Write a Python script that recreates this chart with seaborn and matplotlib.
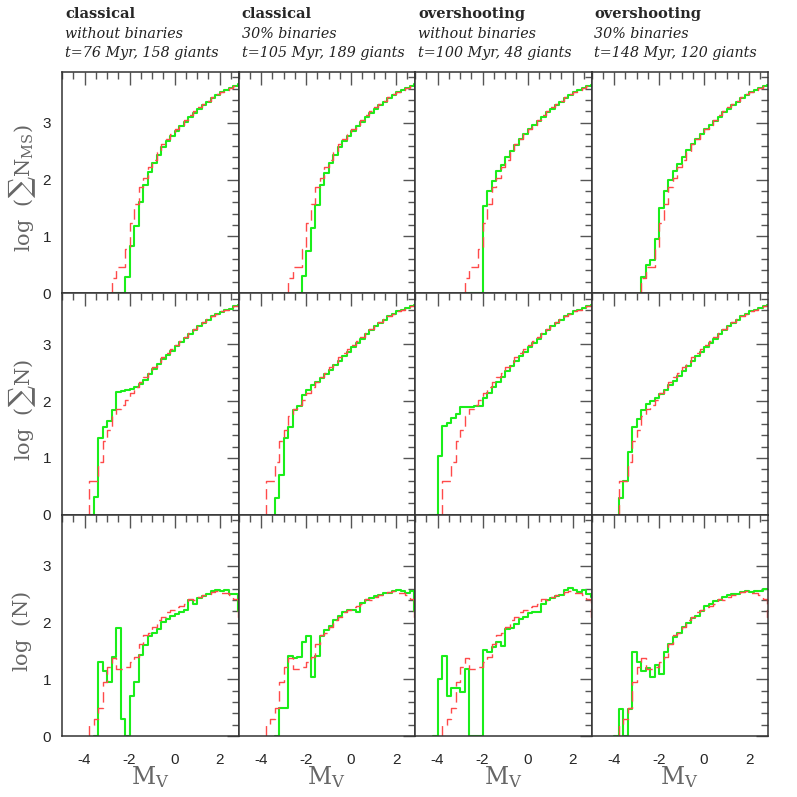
"""
Luminosity-function comparison: observed vs. simulated giants/MS counts
3 rows (log sum N_MS, log sum N, log N) x 4 model columns
"""
import numpy as np
import pandas as pd
import matplotlib
matplotlib.use('Agg')
import matplotlib.pyplot as plt
import seaborn as sns
from matplotlib.ticker import MultipleLocator

_ = np.nan

# left edges of the 0.2 mag bins in M_V
mv_bins = [-4.4, -4.2, -4.0, -3.8, -3.6, -3.4, -3.2, -3.0, -2.8, -2.6, -2.4, -2.2,
           -2.0, -1.8, -1.6, -1.4, -1.2, -1.0, -0.8, -0.6, -0.4, -0.2, 0.0, 0.2,
           0.4, 0.6, 0.8, 1.0, 1.2, 1.4, 1.6, 1.8, 2.0, 2.2, 2.4, 2.6, 2.8]
bin_width = 0.2

col_models = ['classical', 'classical', 'overshooting', 'overshooting']
col_binaries = ['without binaries', '30% binaries', 'without binaries', '30% binaries']
col_fits = ['t=76 Myr, 158 giants', 't=105 Myr, 189 giants',
            't=100 Myr, 48 giants', 't=148 Myr, 120 giants']
row_labels = [r'log  $(\sum \mathrm{N}_{\mathrm{MS}})$', r'log  $(\sum \mathrm{N})$',
              r'log  $(\mathrm{N})$']

# observed cluster (red dashed), same in every column
obs_cum_ms = [_, _, _, _, _, _, _, _, 0.27, 0.47, 0.47, 0.77,
              1.24, 1.57, 1.87, 2.03, 2.22, 2.34, 2.48, 2.62, 2.72, 2.80, 2.89, 2.97,
              3.05, 3.13, 3.20, 3.27, 3.33, 3.39, 3.45, 3.50, 3.55, 3.58, 3.62, 3.65, 3.68]
obs_cum_all = [_, _, _, 0.60, 0.60, 0.92, 1.30, 1.50, 1.74, 1.86, 1.93, 2.02,
               2.15, 2.25, 2.33, 2.42, 2.50, 2.60, 2.69, 2.77, 2.85, 2.92, 2.99, 3.06,
               3.13, 3.20, 3.27, 3.33, 3.39, 3.44, 3.49, 3.54, 3.58, 3.61, 3.64, 3.67, 3.70]
obs_lf = [_, _, _, 0.20, 0.30, 0.50, 0.95, 1.22, 1.37, 1.18, 1.19, 1.22,
          1.30, 1.40, 1.62, 1.78, 1.82, 1.93, 2.05, 2.10, 2.19, 2.22, 2.27, 2.30,
          2.32, 2.42, 2.40, 2.45, 2.48, 2.50, 2.54, 2.55, 2.53, 2.52, 2.48, 2.42, 2.10]

# simulated (green), one list per column
sim_cum_ms = [
    [_, _, _, _, _, _, _, _, 0.0, 0.0, 0.0, 0.29,
     0.83, 1.18, 1.61, 1.91, 2.14, 2.30, 2.44, 2.57, 2.68, 2.77, 2.86, 2.94,
     3.02, 3.11, 3.18, 3.24, 3.31, 3.37, 3.43, 3.49, 3.54, 3.58, 3.61, 3.65, 3.68],
    [_, _, _, _, _, _, _, _, _, _, 0.0, 0.30,
     0.75, 1.15, 1.55, 1.90, 2.12, 2.30, 2.44, 2.57, 2.68, 2.77, 2.86, 2.94,
     3.02, 3.11, 3.18, 3.24, 3.31, 3.37, 3.43, 3.49, 3.54, 3.58, 3.61, 3.65, 3.68],
    [_, _, _, _, _, _, _, _, 0.0, 0.0, 0.0, 0.0,
     1.53, 1.80, 1.98, 2.16, 2.25, 2.39, 2.50, 2.61, 2.71, 2.80, 2.89, 2.96,
     3.04, 3.11, 3.19, 3.25, 3.32, 3.37, 3.43, 3.49, 3.54, 3.57, 3.61, 3.64, 3.67],
    [_, _, _, _, _, _, _, _, 0.28, 0.50, 0.58, 0.95,
     1.50, 1.80, 2.00, 2.15, 2.28, 2.40, 2.52, 2.62, 2.72, 2.80, 2.89, 2.96,
     3.04, 3.11, 3.19, 3.25, 3.32, 3.37, 3.43, 3.49, 3.54, 3.57, 3.61, 3.64, 3.67],
]
sim_cum_all = [
    [_, _, _, 0.0, 0.31, 1.35, 1.55, 1.65, 1.84, 2.16, 2.18, 2.19,
     2.22, 2.25, 2.31, 2.38, 2.47, 2.56, 2.65, 2.74, 2.82, 2.89, 2.97, 3.04,
     3.11, 3.19, 3.26, 3.32, 3.37, 3.43, 3.49, 3.54, 3.57, 3.61, 3.63, 3.67, 3.70],
    [_, _, _, _, _, 0.30, 0.70, 1.35, 1.55, 1.85, 1.92, 2.10,
     2.20, 2.28, 2.33, 2.40, 2.48, 2.55, 2.63, 2.71, 2.79, 2.87, 2.95, 3.02,
     3.10, 3.18, 3.25, 3.32, 3.38, 3.43, 3.49, 3.54, 3.58, 3.61, 3.64, 3.67, 3.70],
    [0.0, 0.0, 1.04, 1.56, 1.62, 1.70, 1.78, 1.89, 1.90, 1.90, 1.91, 1.92,
     2.05, 2.15, 2.25, 2.34, 2.43, 2.53, 2.61, 2.70, 2.79, 2.87, 2.95, 3.02,
     3.10, 3.18, 3.25, 3.32, 3.38, 3.43, 3.49, 3.54, 3.58, 3.61, 3.64, 3.67, 3.70],
    [_, _, _, 0.30, 0.60, 1.10, 1.55, 1.68, 1.85, 1.95, 2.00, 2.05,
     2.12, 2.20, 2.28, 2.36, 2.45, 2.53, 2.61, 2.70, 2.79, 2.87, 2.95, 3.02,
     3.10, 3.18, 3.25, 3.32, 3.38, 3.43, 3.49, 3.54, 3.58, 3.61, 3.64, 3.67, 3.70],
]
sim_lf = [
    [_, _, _, _, 0.0, 1.30, 1.15, 0.96, 1.40, 1.90, 0.30, 0.0,
     0.70, 0.96, 1.43, 1.60, 1.77, 1.82, 1.89, 2.01, 2.07, 2.12, 2.15, 2.19,
     2.23, 2.39, 2.32, 2.43, 2.47, 2.50, 2.56, 2.58, 2.56, 2.58, 2.51, 2.51, 2.20],
    [_, _, _, _, _, 0.0, 0.49, 0.49, 1.42, 1.37, 1.40, 1.66,
     1.77, 1.05, 1.42, 1.76, 1.87, 1.94, 2.04, 2.12, 2.19, 2.22, 2.22, 2.18,
     2.35, 2.40, 2.43, 2.47, 2.48, 2.52, 2.53, 2.56, 2.58, 2.56, 2.52, 2.55, 2.20],
    [_, 0.0, 1.00, 1.42, 0.70, 0.84, 0.84, 0.78, 1.18, 0.0, 0.0, 0.0,
     1.51, 1.49, 1.57, 1.65, 1.59, 1.88, 1.91, 1.98, 2.07, 2.10, 2.17, 2.19,
     2.19, 2.33, 2.40, 2.44, 2.46, 2.48, 2.57, 2.61, 2.57, 2.54, 2.58, 2.50, 2.45],
    [_, _, 0.0, 0.48, 0.0, 0.48, 1.48, 1.30, 1.15, 1.20, 1.05, 1.25,
     1.10, 1.48, 1.62, 1.75, 1.82, 1.92, 2.00, 2.08, 2.12, 2.20, 2.30, 2.32,
     2.38, 2.40, 2.45, 2.48, 2.50, 2.50, 2.54, 2.56, 2.54, 2.56, 2.56, 2.60, 2.60],
]


def step_frame(values):
    """Histogram outline: rise from zero at the first bin, close at the last edge"""
    pairs = [(e, v) for e, v in zip(mv_bins, values) if not np.isnan(v)]
    xs = [pairs[0][0]] + [p[0] for p in pairs] + [pairs[-1][0] + bin_width]
    ys = [0.0] + [p[1] for p in pairs] + [pairs[-1][1]]
    return pd.DataFrame({'mv': xs, 'logn': ys})


sns.set_style('white')
plt.rcParams['mathtext.fontset'] = 'dejavuserif'

W = 797.0
fig = plt.figure(figsize=(7.97, 7.97), dpi=100)

x0, y0 = 62.0, 71.7
pw, ph = 176.5, 221.5
grey = '#555555'

rows = [(obs_cum_ms, sim_cum_ms), (obs_cum_all, sim_cum_all), (obs_lf, sim_lf)]

for r, (obs, sims) in enumerate(rows):
    for c in range(4):
        ax = fig.add_axes([(x0 + c * pw) / W, 1 - (y0 + (r + 1) * ph) / W, pw / W, ph / W])

        sns.lineplot(data=step_frame(sims[c]), x='mv', y='logn', drawstyle='steps-post',
                     estimator=None, sort=False, color='#1aee1a', lw=1.5, ax=ax)
        sns.lineplot(data=step_frame(obs), x='mv', y='logn', drawstyle='steps-post',
                     estimator=None, sort=False, color='#ff4a4a', lw=1.0,
                     linestyle=(0, (7.5, 4)), ax=ax)

        ax.set_xlim(-5.0, 2.84)
        ax.set_ylim(0, 3.9)
        ax.xaxis.set_major_locator(MultipleLocator(2))
        ax.xaxis.set_minor_locator(MultipleLocator(0.5))
        ax.yaxis.set_major_locator(MultipleLocator(1))
        ax.yaxis.set_minor_locator(MultipleLocator(0.2))
        ax.tick_params(which='both', direction='in', top=True, right=True,
                       color=grey, width=1.0)
        ax.tick_params(which='major', length=9)
        ax.tick_params(which='minor', length=5)
        ax.tick_params(axis='x', pad=12)
        ax.tick_params(axis='y', pad=8)
        for sp in ax.spines.values():
            sp.set_color('#333333')
            sp.set_linewidth(1.1)
        ax.set_xlabel('')
        ax.set_ylabel('')

        if c == 0:
            ax.set_yticklabels([f'{t:g}' for t in ax.get_yticks()],
                               family='Liberation Sans', fontsize=11)
        else:
            ax.set_yticklabels([])
        if r == 2:
            ax.set_xticklabels([f'{t:g}' for t in ax.get_xticks()],
                               family='Liberation Sans', fontsize=11)
            fig.text((x0 + (c + 0.5) * pw) / W, 1 - 777 / W, r'$\mathrm{M_V}$',
                     ha='center', va='center', fontsize=17, color='#666666')
        else:
            ax.set_xticklabels([])

    fig.text(22 / W, 1 - (y0 + (r + 0.5) * ph + 6) / W, row_labels[r], rotation=90,
             ha='center', va='center', family='DejaVu Serif', fontsize=15, color='#666666')

# column headers
for c in range(4):
    tx = (x0 + c * pw + 3) / W
    fig.text(tx, 1 - 14 / W, col_models[c], family='DejaVu Serif', weight='bold',
             fontsize=10.5, va='center', ha='left')
    fig.text(tx, 1 - 34 / W, col_binaries[c], family='DejaVu Serif', style='italic',
             fontsize=10.3, va='center', ha='left', color='#222222')
    fig.text(tx, 1 - 53 / W, col_fits[c], family='DejaVu Serif', style='italic',
             fontsize=10.3, va='center', ha='left', color='#222222')

fig.savefig('out.png', dpi=100)
plt.close(fig)
